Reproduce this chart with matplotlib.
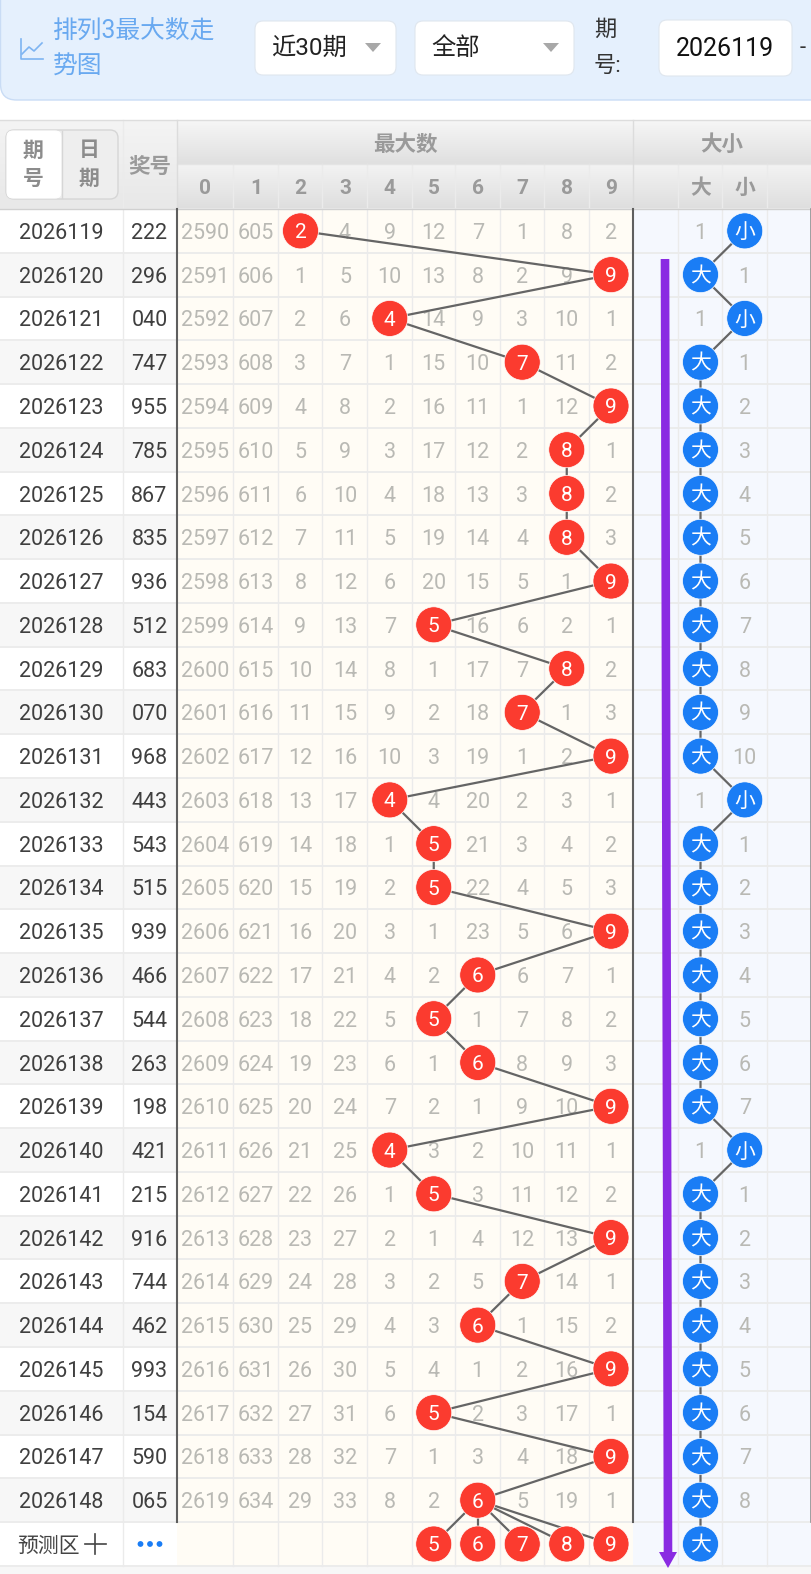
import numpy as np
import matplotlib
matplotlib.use("Agg")
import matplotlib.pyplot as plt
from matplotlib.patches import Circle, FancyBboxPatch, Rectangle, Polygon

plt.rcParams['font.family'] = ['Roboto', 'Noto Sans CJK SC', 'DejaVu Sans']

# Draw results
periods = list(range(2026119, 2026149))
prizes = ["222", "296", "040", "747", "955", "785", "867", "835", "936", "512",
          "683", "070", "968", "443", "543", "515", "939", "466", "544", "263",
          "198", "421", "215", "916", "744", "462", "993", "154", "590", "065"]
max_digits = [2, 9, 4, 7, 9, 8, 8, 8, 9, 5, 8, 7, 9, 4, 5, 5, 9, 6, 5, 6,
              9, 4, 5, 9, 7, 6, 9, 5, 9, 6]

# Gaps since each digit was last the maximum; the hit column is covered by its ball
gap_0 = [2590, 2591, 2592, 2593, 2594, 2595, 2596, 2597, 2598, 2599,
         2600, 2601, 2602, 2603, 2604, 2605, 2606, 2607, 2608, 2609,
         2610, 2611, 2612, 2613, 2614, 2615, 2616, 2617, 2618, 2619]
gap_1 = [605, 606, 607, 608, 609, 610, 611, 612, 613, 614,
         615, 616, 617, 618, 619, 620, 621, 622, 623, 624,
         625, 626, 627, 628, 629, 630, 631, 632, 633, 634]
gap_2 = [0, 1, 2, 3, 4, 5, 6, 7, 8, 9, 10, 11, 12, 13, 14, 15, 16, 17, 18, 19,
         20, 21, 22, 23, 24, 25, 26, 27, 28, 29]
gap_3 = [4, 5, 6, 7, 8, 9, 10, 11, 12, 13, 14, 15, 16, 17, 18, 19, 20, 21, 22, 23,
         24, 25, 26, 27, 28, 29, 30, 31, 32, 33]
gap_4 = [9, 10, 0, 1, 2, 3, 4, 5, 6, 7, 8, 9, 10, 0, 1, 2, 3, 4, 5, 6,
         7, 0, 1, 2, 3, 4, 5, 6, 7, 8]
gap_5 = [12, 13, 14, 15, 16, 17, 18, 19, 20, 0, 1, 2, 3, 4, 0, 0, 1, 2, 0, 1,
         2, 3, 0, 1, 2, 3, 4, 0, 1, 2]
gap_6 = [7, 8, 9, 10, 11, 12, 13, 14, 15, 16, 17, 18, 19, 20, 21, 22, 23, 0, 1, 0,
         1, 2, 3, 4, 5, 0, 1, 2, 3, 0]
gap_7 = [1, 2, 3, 0, 1, 2, 3, 4, 5, 6, 7, 0, 1, 2, 3, 4, 5, 6, 7, 8,
         9, 10, 11, 12, 0, 1, 2, 3, 4, 5]
gap_8 = [8, 9, 10, 11, 12, 0, 0, 0, 1, 2, 0, 1, 2, 3, 4, 5, 6, 7, 8, 9,
         10, 11, 12, 13, 14, 15, 16, 17, 18, 19]
gap_9 = [2, 0, 1, 2, 0, 1, 2, 3, 0, 1, 2, 3, 0, 1, 2, 3, 0, 1, 2, 3,
         0, 1, 2, 0, 1, 2, 0, 1, 0, 1]
digit_gaps = [gap_0, gap_1, gap_2, gap_3, gap_4, gap_5, gap_6, gap_7, gap_8, gap_9]

big_gap = [1, 0, 1, 0, 0, 0, 0, 0, 0, 0, 0, 0, 0, 1, 0, 0, 0, 0, 0, 0,
           0, 1, 0, 0, 0, 0, 0, 0, 0, 0]
small_gap = [0, 1, 0, 1, 2, 3, 4, 5, 6, 7, 8, 9, 10, 0, 1, 2, 3, 4, 5, 6,
             7, 0, 1, 2, 3, 4, 5, 6, 7, 8]
size_labels = ["大", "小"]
digit_labels = ["0", "1", "2", "3", "4", "5", "6", "7", "8", "9"]
predicted_digits = [5, 6, 7, 8, 9]
predicted_size = 0

# Table layout in pixels
W, H = 812, 1574
ROW_TOP, ROW_H = 209.0, 43.77
N = len(periods)
DIGIT_EDGES = [177, 233.5, 278.5, 322.5, 367.5, 412, 455.5, 500, 544.5, 589, 633]
SIZE_EDGES = [633, 678.5, 722.5, 767, 812]
PRED_TOP = ROW_TOP + N * ROW_H
PRED_BOTTOM = PRED_TOP + ROW_H
RADIUS = 18

RED, BLUE = "#fb3b2f", "#1a7df5"
LINE = "#656565"
GRID = "#ebebeb"
GAP_TXT = "#b9b9b4"
HEAD_TXT = "#9a9a9a"
INK = "#3f3f3f"
PURPLE = "#8a2be2"

fig = plt.figure(figsize=(W / 100, H / 100), dpi=100, facecolor="white")
ax = fig.add_axes([0, 0, 1, 1])
ax.set_xlim(0, W)
ax.set_ylim(H, 0)
ax.axis("off")


def row_y(i):
    return ROW_TOP + (i + 0.5) * ROW_H


def digit_x(d):
    return (DIGIT_EDGES[d] + DIGIT_EDGES[d + 1]) / 2


def size_x(s):
    return (SIZE_EDGES[s + 1] + SIZE_EDGES[s + 2]) / 2


def label(x, y, s, size=15.5, color=INK, ha="center", weight="normal", z=3):
    ax.text(x, y, s, fontsize=size, color=color, ha=ha, va="center_baseline",
            fontweight=weight, zorder=z)


def gradient(x0, x1, y0, y1, top, bottom):
    c0, c1 = matplotlib.colors.to_rgb(top), matplotlib.colors.to_rgb(bottom)
    ramp = np.linspace(0, 1, 32)[:, None, None]
    img = np.array(c0)[None, None, :] * (1 - ramp) + np.array(c1)[None, None, :] * ramp
    ax.imshow(img, extent=(x0, x1, y1, y0), aspect="auto", zorder=1, interpolation="bilinear")


def ball(x, y, s, color, z=6):
    ax.add_patch(Circle((x, y), RADIUS, facecolor=color, edgecolor="white",
                        linewidth=0.5, zorder=z))
    label(x, y, s, size=15, color="white", z=z + 1)


def box(x0, y0, x1, y1, face, edge, r=8, z=2, lw=0.8):
    ax.add_patch(FancyBboxPatch((x0, y0), x1 - x0, y1 - y0,
                                boxstyle=f"round,pad=0,rounding_size={r}",
                                facecolor=face, edgecolor=edge, linewidth=lw, zorder=z))


# Toolbar
box(0.5, -40, 860, 100, "#e5f0fd", "#c9dcf5", r=16, lw=1)
ax.plot([21, 21, 43], [39, 59, 59], color="#7eb4f2", lw=1.2, zorder=3)
ax.plot([22, 29, 34, 42], [54, 47, 51, 43], color="#7eb4f2", lw=1.2, zorder=3)
label(53, 29, "排列3最大数走", size=17.8, color="#69a9f0", ha="left")
label(53, 64, "势图", size=17.8, color="#69a9f0", ha="left")
box(255, 21, 396, 75, "white", "#dfe6ee")
label(271, 46, "近30期", size=17.5, ha="left", color="#222222")
ax.add_patch(Polygon([[365, 43], [381, 43], [373, 52]], facecolor="#a8a8a8", zorder=3))
box(415, 21, 574, 75, "white", "#dfe6ee")
label(431, 46, "全部", size=17.5, ha="left", color="#222222")
ax.add_patch(Polygon([[543, 43], [559, 43], [551, 52]], facecolor="#a8a8a8", zorder=3))
label(594, 28, "期", size=16, ha="left", color="#333333")
label(594, 64, "号:", size=16, ha="left", color="#333333")
box(659, 20, 792, 76, "white", "#dfe6ee")
label(676, 46, "2026119", size=18, ha="left", color="#111111")
label(803, 46, "-", size=16, color="#333333")

# Body backgrounds
for i in range(N):
    shade = "#f7f7f7" if i % 2 else "white"
    ax.add_patch(Rectangle((0, ROW_TOP + i * ROW_H), 177, ROW_H, facecolor=shade, zorder=1))
ax.add_patch(Rectangle((177, ROW_TOP), 456, PRED_BOTTOM - ROW_TOP, facecolor="#fffcf5", zorder=1))
ax.add_patch(Rectangle((633, ROW_TOP), 179, PRED_BOTTOM - ROW_TOP, facecolor="#f5f8fe", zorder=1))
ax.add_patch(Rectangle((0, PRED_BOTTOM), W, H - PRED_BOTTOM, facecolor="#f7f7f7", zorder=1))

# Header bands
gradient(0, 177, 120, 209, "#f4f4f4", "#e8e8e8")
gradient(177, W, 120, 164, "#f6f6f6", "#e0e0e0")
gradient(177, W, 164, 209, "#f3f3f3", "#dedede")

# Grid
for i in range(N + 2):
    ax.plot([0, W], [ROW_TOP + i * ROW_H] * 2, color=GRID, lw=1.3, zorder=2)
for x in [123] + DIGIT_EDGES[1:-1] + SIZE_EDGES[1:-1]:
    ax.plot([x, x], [164 if x > 177 else 120, PRED_BOTTOM], color=GRID, lw=1, zorder=2)
ax.plot([0, W], [120, 120], color="#dddddd", lw=1, zorder=2)
ax.plot([177, W], [164, 164], color="#e4e4e4", lw=1, zorder=2)
ax.plot([0, W], [209, 209], color="#d0d0d0", lw=1, zorder=2)
ax.plot([177, 177], [120, 209], color="#dcdcdc", lw=1, zorder=2)
ax.plot([633, 633], [120, 209], color="#dcdcdc", lw=1, zorder=2)
for x in (177, 633):
    ax.plot([x, x], [ROW_TOP, PRED_TOP], color="#5f5f5f", lw=1.5, zorder=2.5)
ax.plot([811, 811], [ROW_TOP, PRED_TOP], color="#909090", lw=1.2, zorder=2.5)

# Header text and the issue/date switch
box(6, 130, 118, 199, "#eeeeee", "#d6d6d6", r=8, lw=1)
box(7, 131, 61, 198, "white", "white", r=6, z=2.2)
ax.plot([62, 62], [131, 198], color="#d6d6d6", lw=1, zorder=2.3)
for x, pair in zip((33, 89), ("期号", "日期")):
    label(x, 149, pair[0], size=15, color="#8c8c8c", weight="bold")
    label(x, 177, pair[1], size=15, color="#8c8c8c", weight="bold")
label(150, 164, "奖号", size=15.5, color=HEAD_TXT, weight="bold")
label(405, 142, "最大数", size=15.5, color=HEAD_TXT, weight="bold")
label(722, 142, "大小", size=15.5, color=HEAD_TXT, weight="bold")
for d, s in enumerate(digit_labels):
    label(digit_x(d), 186, s, size=15, color=HEAD_TXT, weight="bold")
for k, s in enumerate(size_labels):
    label(size_x(k), 186, s, size=15, color=HEAD_TXT, weight="bold")

# Issue rows and gap counts
for i in range(N):
    y = row_y(i)
    label(61.5, y, str(periods[i]))
    label(149.5, y, prizes[i])
    for d in range(10):
        if d != max_digits[i]:
            label(digit_x(d), y, str(digit_gaps[d][i]), color=GAP_TXT)
    label(size_x(0), y, str(big_gap[i]) if big_gap[i] else "", color=GAP_TXT)
    label(size_x(1), y, str(small_gap[i]) if small_gap[i] else "", color=GAP_TXT)

# Trend polylines
xs = [digit_x(d) for d in max_digits]
ys = [row_y(i) for i in range(N)]
ax.plot(xs, ys, color=LINE, lw=1.6, zorder=4)
for d in predicted_digits:
    ax.plot([xs[-1], digit_x(d)], [ys[-1], row_y(N)], color=LINE, lw=1.6, zorder=4)

size_state = [0 if g == 0 else 1 for g in big_gap]
size_xs = [size_x(s) for s in size_state] + [size_x(predicted_size)]
ax.plot(size_xs, ys + [row_y(N)], color=LINE, lw=1.6, zorder=4)

# Balls
for i in range(N):
    ball(xs[i], ys[i], str(max_digits[i]), RED)
    ball(size_xs[i], ys[i], size_labels[size_state[i]], BLUE)
for d in predicted_digits:
    ball(digit_x(d), row_y(N), str(d), RED)
ball(size_xs[-1], row_y(N), size_labels[predicted_size], BLUE)

# Prediction row
label(49, row_y(N), "预测区", size=15, color="#444444")
ax.plot([85, 106], [row_y(N)] * 2, color="#444444", lw=1.2, zorder=3)
ax.plot([95.5, 95.5], [row_y(N) - 10, row_y(N) + 10], color="#444444", lw=1.2, zorder=3)
for dx in (-9.5, 0, 9.5):
    ax.add_patch(Circle((150 + dx, row_y(N)), 2.9, facecolor="#1a7df5", edgecolor="none", zorder=3))

# Purple arrow over the right panel
ax.plot([665, 668], [259, 1556], color=PURPLE, lw=6.2, solid_capstyle="butt", zorder=5)
ax.add_patch(Polygon([[659, 1552], [677, 1552], [668, 1568]], facecolor=PURPLE, zorder=5))

ax.set_xlim(0, W)
ax.set_ylim(H, 0)
fig.savefig("out.png", dpi=100)
